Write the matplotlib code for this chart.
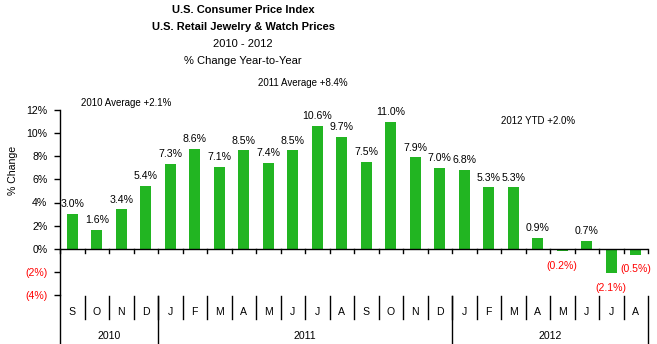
import matplotlib
matplotlib.use("Agg")
import matplotlib.pyplot as plt
import matplotlib.transforms as mtransforms
from matplotlib.font_manager import fontManager

months = ["S", "O", "N", "D",
          "J", "F", "M", "A", "M", "J", "J", "A", "S", "O", "N", "D",
          "J", "F", "M", "A", "M", "J", "J", "A"]
years = ["2010", "2011", "2012"]
year_counts = [4, 12, 8]
pct_change = [3.0, 1.6, 3.4, 5.4,
              7.3, 8.6, 7.1, 8.5, 7.4, 8.5, 10.6, 9.7, 7.5, 11.0, 7.9, 7.0,
              6.8, 5.3, 5.3, 0.9, -0.2, 0.7, -2.1, -0.5]
y_ticks = [-4, -2, 0, 2, 4, 6, 8, 10, 12]
title_lines = ["U.S. Consumer Price Index", "U.S. Retail Jewelry & Watch Prices",
               "2010 - 2012", "% Change Year-to-Year"]
notes = ["2010 Average +2.1%", "2011 Average +8.4%", "2012 YTD +2.0%"]

installed = {f.name for f in fontManager.ttflist}
narrow = [f for f in ["Liberation Sans Narrow", "Liberation Sans", "DejaVu Sans"] if f in installed]
plt.rcParams["font.family"] = ["Liberation Sans", "DejaVu Sans"]

W, H = 657, 344
fig = plt.figure(figsize=(W / 100, H / 100), dpi=100)
fig.patch.set_facecolor("white")

FS = 7.6


def fy(px):
    return 1 - px / H


ax = fig.add_axes([60 / W, fy(295), (648 - 60) / W, (295 - 110) / H])
n = len(pct_change)
xs = list(range(n))
GREEN = "#22B522"
ax.bar(xs, pct_change, width=0.44, color=GREEN, zorder=2)
ax.set_xlim(-0.5, n - 0.5)
ax.set_ylim(-4, 12)

for s in ["top", "right", "bottom"]:
    ax.spines[s].set_visible(False)
ax.spines["left"].set_linewidth(1)
ax.set_xticks([])
ax.set_yticks(y_ticks)
ax.set_yticklabels([f"({-v}%)" if v < 0 else f"{v}%" for v in y_ticks])
for lbl, v in zip(ax.get_yticklabels(), y_ticks):
    lbl.set_color("red" if v < 0 else "black")
    lbl.set_fontsize(FS)
ax.tick_params(axis="y", length=4, width=1, pad=5)
fig.text(13 / W, fy(170), "% Change", rotation=90, ha="center", va="center", fontsize=FS)

# zero line with tick marks at category boundaries
ax.axhline(0, color="black", lw=1, zorder=3)
bt = mtransforms.blended_transform_factory(ax.transData, fig.transFigure)
for k in range(n + 1):
    xb = k - 0.5
    ax.plot([xb, xb], [fy(249), fy(253)], color="black", lw=1, transform=bt, clip_on=False)

# value labels
for x, v in zip(xs, pct_change):
    if v >= 0:
        ax.annotate(f"{v:.1f}%", (x, v), xytext=(0, 3.5), textcoords="offset points",
                    ha="center", va="bottom", fontsize=FS, color="black")
    else:
        ax.annotate(f"({-v:.1f}%)", (x, v), xytext=(0, -7), textcoords="offset points",
                    ha="center", va="top", fontsize=FS, color="red")

# multi-level category axis
ax.plot([-0.5, -0.5], [fy(295), fy(344)], color="black", lw=1, transform=bt, clip_on=False)
for k in range(1, n):
    ax.plot([k - 0.5, k - 0.5], [fy(296), fy(319)], color="black", lw=1,
            transform=bt, clip_on=False)
for x, m in zip(xs, months):
    ax.text(x, fy(312), m, transform=bt, ha="center", va="center", fontsize=FS)
start = 0
for yr, cnt in zip(years, year_counts):
    end = start + cnt
    ax.plot([end - 0.5, end - 0.5], [fy(296), fy(344)], color="black", lw=1,
            transform=bt, clip_on=False)
    ax.text((start + end - 1) / 2, fy(336), yr, transform=bt, ha="center",
            va="center", fontsize=FS)
    start = end

# titles
tx = 243 / W
fig.text(tx, fy(10), title_lines[0], ha="center", va="center", fontsize=8,
         fontweight="bold", family=narrow)
fig.text(tx, fy(27), title_lines[1], ha="center", va="center", fontsize=8,
         fontweight="bold", family=narrow)
fig.text(tx, fy(44), title_lines[2], ha="center", va="center", fontsize=8,
         family=narrow)
fig.text(tx, fy(61), title_lines[3], ha="center", va="center", fontsize=8,
         family=narrow)

fig.text(126 / W, fy(103), notes[0], ha="center", va="center", fontsize=7)
fig.text(303 / W, fy(83), notes[1], ha="center", va="center", fontsize=7)
fig.text(538 / W, fy(121), notes[2], ha="center", va="center", fontsize=7)

fig.savefig("out.png", dpi=100)
